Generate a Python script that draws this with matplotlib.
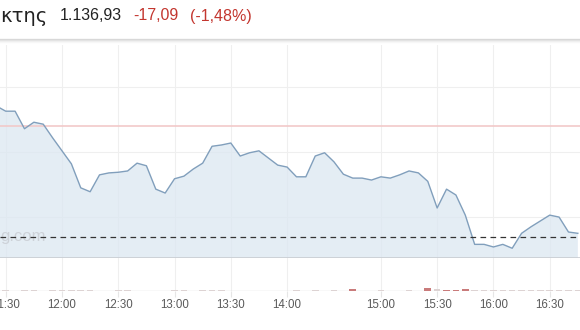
import matplotlib
matplotlib.use("Agg")
import matplotlib.pyplot as plt
from matplotlib.lines import Line2D

# index of 5-minute sample (0 = 11:30), gap of two samples around 14:30
idx = list(range(-1, 62))
price = [1157.1, 1156.3, 1156.3, 1153.6, 1154.6, 1154.3, 1152.2, 1150.2, 1148.2,
         1144.5, 1143.9, 1146.5, 1146.8, 1146.9, 1147.1, 1148.3, 1147.9, 1144.3,
         1143.7, 1145.9, 1146.3, 1147.4, 1148.3, 1150.9, 1151.1, 1151.4, 1149.4,
         1149.9, 1150.2, 1149.1, 1148.0, 1147.7, 1146.2, 1146.2, 1149.4, 1149.9,
         1148.5, 1146.6, 1146.0, 1146.0, 1145.7, 1146.2, 1146.0, 1146.5, 1147.1,
         1146.8, 1145.5, 1141.4, 1144.3, 1143.4, 1140.3, 1135.8, 1135.8, 1135.4,
         1135.8, 1135.2, 1137.5, 1138.5, 1139.4, 1140.3, 1140.0, 1137.7, 1137.5]

vol_idx = [0, 2, 3, 5, 6, 7, 8, 9, 12, 13, 18, 19, 21, 22, 23, 31, 33, 35, 37, 40,
           43, 45, 46, 47, 48, 49, 50, 51, 52, 53, 54, 55, 56, 57, 58, 59, 60, 61]
vol = [1, 1, 1, 1, 1, 1, 1, 1, 1, 1, 1, 1, 1, 1, 1, 1, 1, 1, 3, 1,
       1, 4, 2, 1, 1, 3, 1, 1, 1, 1, 1, 1, 1, 1, 1, 1, 1, 1]
vol_down = [0, 0, 0, 0, 0, 0, 0, 0, 0, 0, 0, 0, 0, 0, 0, 0, 0, 0, 1, 0,
            0, 1, 0, 1, 1, 1, 0, 0, 0, 0, 0, 0, 0, 0, 0, 0, 0, 0]

tick_idx = [0, 6, 12, 18, 24, 30, 40, 46, 52, 58]
tick_lbl = ["11:30", "12:00", "12:30", "13:00", "13:30", "14:00",
            "15:00", "15:30", "16:00", "16:30"]

prev_close = 1154.02
last = 1136.93
change = "-17,09"
change_pct = "(-1,48%)"

plt.rcParams["font.family"] = ["Liberation Sans", "DejaVu Sans"]

fig = plt.figure(figsize=(5.8, 3.3), dpi=100)
W, H = 580, 330

# main price axes
ax = fig.add_axes([0, 1 - 258 / H, 1, (258 - 45) / H])
ax.set_xlim(-0.61, 61.23)
ax.set_ylim(1133.70, 1166.49)
for t in tick_idx:
    ax.axvline(t, color="#efefef", lw=0.8, zorder=0)
for g in [1140, 1150, 1160]:
    ax.axhline(g, color="#efefef", lw=0.8, zorder=0)
ax.fill_between(idx, price, 1133.70, color="#dce7f1", alpha=0.75, lw=0, zorder=1)
ax.plot(idx, price, color="#819fbc", lw=1.0, zorder=3)
ax.axhline(prev_close, color="#f2c9c9", lw=1.2, zorder=2)
ax.axhline(last, color="#333333", lw=0.9, ls=(0, (4.5, 3.5)), zorder=4)
ax.axhline(1133.70, color="#c9cdd2", lw=1.2, zorder=4)
ax.text(-0.61, 1137.0, "g.com", color="#c8ccd2", fontsize=12, ha="left",
        va="center", zorder=2, alpha=0.8)
ax.set_xticks([])
ax.set_yticks([])
for s in ax.spines.values():
    s.set_visible(False)

# volume axes
vax = fig.add_axes([0, 1 - 291 / H, 1, (291 - 258) / H])
vax.set_xlim(-0.61, 61.23)
vax.set_ylim(0, 40)
for t in tick_idx:
    vax.axvline(t, color="#efefef", lw=0.8, zorder=0)
colors = ["#c97b7b" if d else "#ddd3d3" for d in vol_down]
vax.bar(vol_idx, vol, width=0.7, color=colors, zorder=2)
vax.axhline(0, color="#dddddd", lw=1.0, zorder=1)
vax.set_yticks([])
vax.set_xticks(tick_idx)
vax.set_xticklabels(tick_lbl, fontsize=8.3, color="#5a5a5a")
vax.tick_params(axis="x", length=4, color="#e6e6e6", pad=2)
for s in vax.spines.values():
    s.set_visible(False)

# header
fig.text(0, 1 - 17 / H, "κτης", fontsize=14, color="#222222", va="center",
         ha="left", family=["DejaVu Sans"])
fig.text(60 / W, 1 - 16 / H, "1.136,93", fontsize=11.5, color="#222222",
         va="center", ha="left")
fig.text(133 / W, 1 - 16 / H, change, fontsize=11.5, color="#c3362f",
         va="center", ha="left")
fig.text(190 / W, 1 - 16 / H, change_pct, fontsize=11.5, color="#c3362f",
         va="center", ha="left")
for i, a in enumerate([0.35, 0.2, 0.1, 0.05]):
    y = 1 - (39 + i) / H
    fig.add_artist(Line2D([0, 1], [y, y], transform=fig.transFigure,
                          color="#999999", alpha=a, lw=1))

fig.savefig("out.png", dpi=100)
